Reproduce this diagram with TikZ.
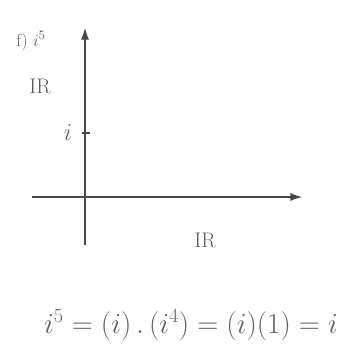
\documentclass[tikz,border=0pt]{standalone}
\usepackage{amsmath,amssymb}
\usepackage{xcolor}
\usepackage{tikz}
\usetikzlibrary{arrows.meta,positioning,calc}
\definecolor{PencilGray}{RGB}{ 70, 72,  76}
\definecolor{InkGray}   {RGB}{ 95, 95, 100}
\definecolor{PrintGray} {RGB}{ 85, 90,  95}

\begin{document}
\begin{tikzpicture}[x=0.03cm,y=-0.03cm,
      axis/.style={-{Latex[length=10pt,width=7pt]},line width=0.9pt,PencilGray},
      lbl/.style={inner sep=0pt,text=PrintGray,font=\fontsize{18}{20}\selectfont},
      hand/.style={inner sep=0pt,text=InkGray}]
    \useasboundingbox (0,0) rectangle (355,355);
    \coordinate (O) at (85,197);
    \coordinate (ybot) at (85,245);
    \coordinate (ytop) at (85,28);
    \coordinate (xleft) at (32,197);
    \coordinate (xright) at (302,197);
    \draw[axis](ybot)--(ytop);
    \draw[axis](xleft)--(xright);
    \coordinate (T) at (85,133);
    \draw[line width=0.9pt,PencilGray]($(T)+(-3,0)$)--($(T)+(5,0)$);
    \node[hand,font=\fontsize{20}{22}\selectfont,left=11pt of T](Ti){$i$};
    \node[hand,font=\fontsize{15}{17}\selectfont](title) at (31,41){f) $i^5$};
    \node[lbl](Rim) at (40,86){IR};
    \node[lbl](Rre) at (205,240){IR};
    \node[hand,font=\fontsize{27}{31}\selectfont](eq) at (191,325)
      {$i^5=(i)\,.\,(i^4)=(i)(1)=i$};
  \end{tikzpicture}
\end{document}
